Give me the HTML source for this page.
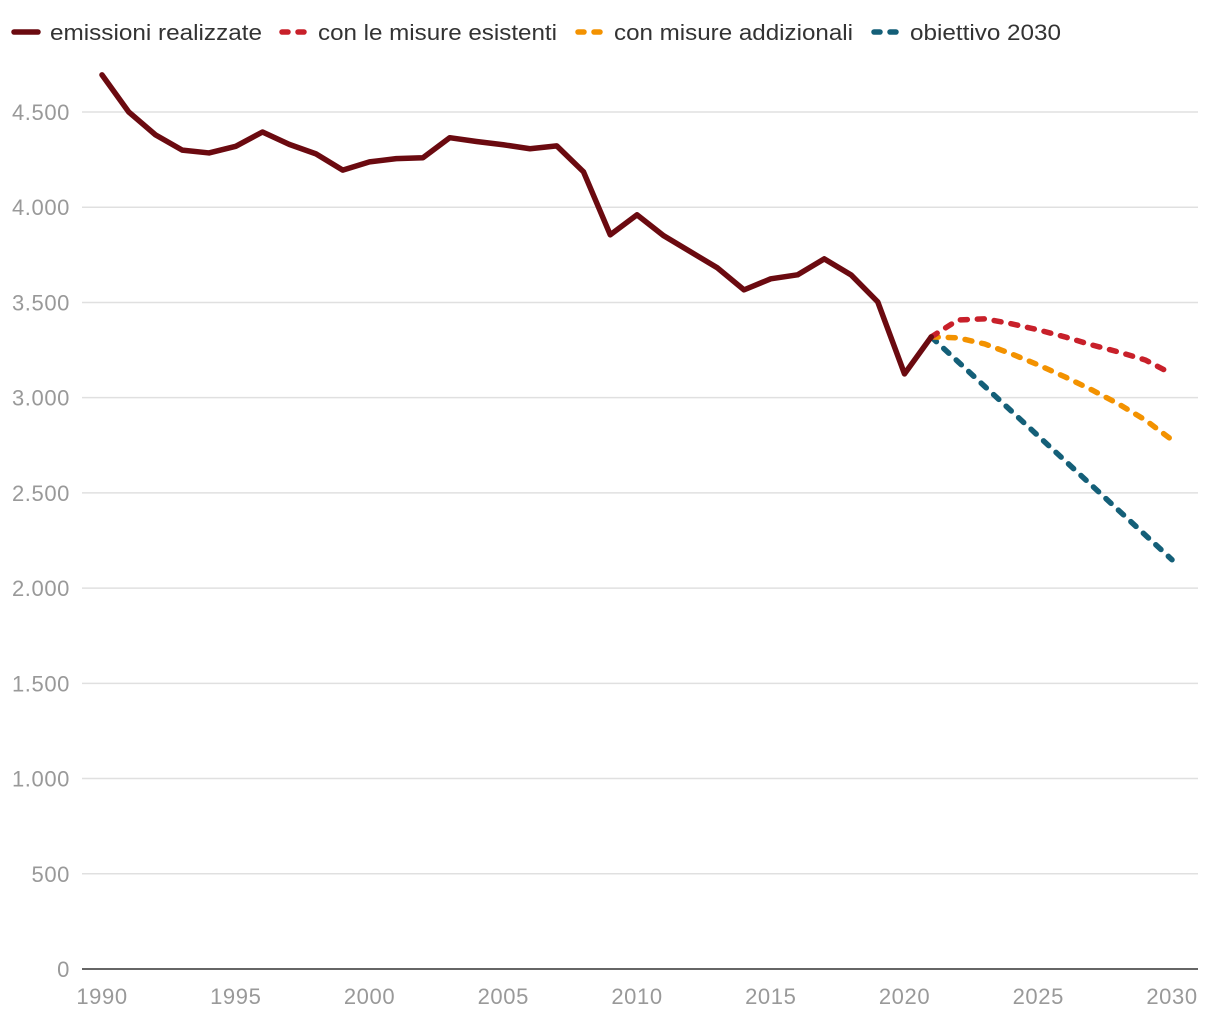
<!DOCTYPE html>
<html><head><meta charset="utf-8"><style>
body{margin:0;background:#fff;font-family:"Liberation Sans",sans-serif}
</style></head><body>
<svg id="chart" width="1220" height="1020" xmlns="http://www.w3.org/2000/svg">
<g font-size="22" fill="#333">
 <g><line x1="14" y1="32" x2="38" y2="32" stroke="#6b0a10" stroke-width="5.5" stroke-linecap="round"/><text x="50" y="40" textLength="212" lengthAdjust="spacingAndGlyphs">emissioni realizzate</text></g>
 <g><line x1="282" y1="32" x2="308" y2="32" stroke="#c8202a" stroke-width="5.5" stroke-linecap="round" stroke-dasharray="6 10"/><text x="318" y="40" textLength="239" lengthAdjust="spacingAndGlyphs">con le misure esistenti</text></g>
 <g><line x1="578" y1="32" x2="604" y2="32" stroke="#f39200" stroke-width="5.5" stroke-linecap="round" stroke-dasharray="6 10"/><text x="614" y="40" textLength="239" lengthAdjust="spacingAndGlyphs">con misure addizionali</text></g>
 <g><line x1="874" y1="32" x2="900" y2="32" stroke="#145f78" stroke-width="5.5" stroke-linecap="round" stroke-dasharray="6 10"/><text x="910" y="40" textLength="151" lengthAdjust="spacingAndGlyphs">obiettivo 2030</text></g>
</g>
<g id="grid"></g><g id="series"></g>
</svg>
<script>
const years=[1990,1991,1992,1993,1994,1995,1996,1997,1998,1999,2000,2001,2002,2003,2004,2005,2006,2007,2008,2009,2010,2011,2012,2013,2014,2015,2016,2017,2018,2019,2020,2021];
const realized=[4695,4500,4380,4300,4285,4320,4395,4330,4280,4195,4238,4255,4260,4365,4345,4328,4307,4322,4186,3855,3960,3850,3766,3682,3566,3624,3645,3729,3645,3503,3125,3319];
const projYears=[2021,2022,2023,2024,2025,2026,2027,2028,2029,2030];
const existing=[3319,3408,3414,3388,3356,3319,3277,3240,3198,3125];
const additional=[3319,3314,3282,3230,3172,3109,3041,2967,2883,2778];
const target=[3319,3189,3059,2929,2799,2669,2539,2409,2279,2149];
const yTicks=[0,500,1000,1500,2000,2500,3000,3500,4000,4500];
const yLabels=["0","500","1.000","1.500","2.000","2.500","3.000","3.500","4.000","4.500"];
const xTicks=[1990,1995,2000,2005,2010,2015,2020,2025,2030];
const NS="http://www.w3.org/2000/svg";
const X=y=>102+(y-1990)*(1172-102)/40;
const Y=v=>969-v*(969-112)/4500;
function mk(t,a,p){const e=document.createElementNS(NS,t);for(const k in a)e.setAttribute(k,a[k]);p.appendChild(e);return e;}
const g=document.getElementById('grid'),s=document.getElementById('series');
yTicks.forEach((v,i)=>{
 if(v>0){const l=mk('line',{x1:82,x2:1198,y1:Y(v),y2:Y(v),stroke:'#e0e0e0','stroke-width':1.5},g);
 
 }
 const t=mk('text',{x:70,y:Y(v)+8,'text-anchor':'end','font-size':22,'letter-spacing':0.6,fill:'#999'},g);t.textContent=yLabels[i];
 
 
});
const ax=mk('line',{x1:82,x2:1198,y1:969,y2:969,stroke:'#333','stroke-width':1.5},g);


xTicks.forEach(y=>{
 const t=mk('text',{x:X(y),y:1004,'text-anchor':'middle','font-size':22,'letter-spacing':0.6,fill:'#999'},g);t.textContent=y;
 
 
});
function line(xs,vs,col,dash,name){
 const p=mk('polyline',{points:xs.map((x,i)=>X(x)+','+Y(vs[i])).join(' '),fill:'none',stroke:col,'stroke-width':5.5,'stroke-linecap':'round','stroke-linejoin':'round'},s);
 if(dash)p.setAttribute('stroke-dasharray','7 10');
 
 
}
line(projYears,target,'#145f78',true,'target-line');
line(projYears,additional,'#f39200',true,'additional-measures-line');
line(projYears,existing,'#c8202a',true,'existing-measures-line');
line(years,realized,'#6b0a10',false,'realized-emissions-line');
</script>
</body></html>
